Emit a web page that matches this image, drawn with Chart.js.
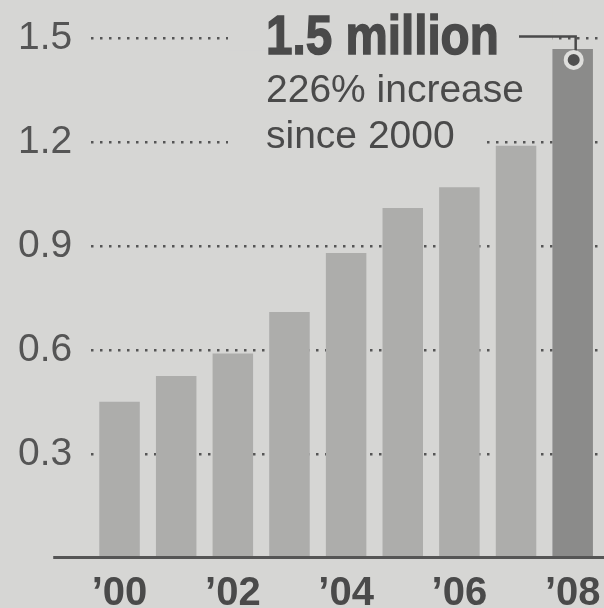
<!DOCTYPE html>
<html>
<head>
<meta charset="utf-8">
<script src="https://cdn.jsdelivr.net/npm/chart.js@4"></script>
<style>
  html, body { margin: 0; padding: 0; background: #d6d6d4; }
  #wrap { width: 604px; height: 608px; position: relative; }
</style>
</head>
<body>
<div id="wrap"><canvas id="grafica"></canvas></div>
<script>
// datos (millones)
const years = ["2000", "2001", "2002", "2003", "2004", "2005", "2006", "2007", "2008"];
const values = [0.45, 0.525, 0.59, 0.71, 0.88, 1.01, 1.07, 1.19, 1.47];
const xTickLabels = ["’00", "’02", "’04", "’06", "’08"];
const yTicks = [0.3, 0.6, 0.9, 1.2, 1.5];
const titleText = "1.5 million";
const noteLines = ["226% increase", "since 2000"];

const bg = "#d6d6d4";
const ink = "#4a4a4a";
const barLight = "#adadab";
const barDark = "#8b8b8a";

// texto anotado + línea guía + línea base
const extras = {
  id: "extras",
  beforeDatasetsDraw(chart) {
    const c = chart.ctx;
    const y = chart.scales.y;
    const last = chart.getDatasetMeta(0).data[values.length - 1];
    const left = last.x - last.width / 2;
    const y15 = y.getPixelForValue(1.5);
    const y12 = y.getPixelForValue(1.2);
    c.save();
    // tapar la cuadrícula detrás del texto
    c.fillStyle = bg;
    c.fillRect(228, 0, left - 228, y15 + 12);
    c.fillRect(228, y15 + 12, 487 - 228, y12 - y15 + 10);

    c.fillStyle = ink;
    c.strokeStyle = ink;
    c.textBaseline = "alphabetic";
    c.textAlign = "left";
    c.save();
    c.translate(266, 54);
    c.scale(0.85, 1);
    c.font = "bold 56px 'Liberation Sans', Arial";
    c.lineWidth = 1.5;
    c.fillText(titleText, 0, 0);
    c.strokeText(titleText, 0, 0);
    c.restore();
    c.font = "39px 'Liberation Sans', Arial";
    c.fillText(noteLines[0], 266, 102);
    c.fillText(noteLines[1], 266, 148);
    c.restore();
  },
  afterDatasetsDraw(chart) {
    const c = chart.ctx;
    const y = chart.scales.y;
    const a = chart.chartArea;
    const last = chart.getDatasetMeta(0).data[values.length - 1];
    const gy = y.getPixelForValue(1.5) - 2;
    const cy = last.y + 11;
    c.save();
    // línea guía
    c.strokeStyle = ink;
    c.lineWidth = 2.5;
    c.beginPath();
    c.moveTo(519, gy);
    c.lineTo(last.x + 3, gy);
    c.lineTo(last.x + 3, cy - 8);
    c.stroke();
    c.fillStyle = "#dededc";
    c.beginPath();
    c.arc(last.x + 1, cy, 10, 0, Math.PI * 2);
    c.fill();
    c.fillStyle = "#505050";
    c.beginPath();
    c.arc(last.x + 1, cy, 6, 0, Math.PI * 2);
    c.fill();
    // línea base
    c.strokeStyle = "#555";
    c.lineWidth = 3;
    c.beginPath();
    c.moveTo(a.left - 38, y.getPixelForValue(0));
    c.lineTo(604, y.getPixelForValue(0));
    c.stroke();
    c.restore();
  }
};

const ctx = document.getElementById("grafica").getContext("2d");
const chart = new Chart(ctx, {
  type: "bar",
  data: {
    labels: years,
    datasets: [{
      data: values,
      backgroundColor: (c) => c.dataIndex === values.length - 1 ? barDark : barLight,
      borderWidth: 0,
      categoryPercentage: 1,
      barPercentage: 0.715
    }]
  },
  options: {
    responsive: true,
    maintainAspectRatio: false,
    animation: false,
    layout: { padding: { top: 38, left: -1, right: 3, bottom: -22.4 } },
    plugins: { legend: { display: false }, tooltip: { enabled: false } },
    scales: {
      x: {
        grid: { display: false, drawTicks: false },
        border: { display: false },
        ticks: {
          autoSkip: false,
          maxRotation: 0,
          padding: 0,
          color: ink,
          font: { family: "'Liberation Sans', Arial", size: 40, weight: "bold", lineHeight: 1.82 },
          callback: (v, i) => i % 2 === 0 ? xTickLabels[i / 2] : ""
        }
      },
      y: {
        min: 0,
        max: 1.5,
        afterBuildTicks: (s) => { s.ticks = yTicks.map(v => ({ value: v })); },
        grid: { color: "#555", lineWidth: 2.5, drawTicks: false },
        border: { display: false, dash: [2.5, 6.5] },
        ticks: {
          padding: 19,
          color: "#555",
          font: { family: "'Liberation Sans', Arial", size: 39, lineHeight: 1 },
          callback: (v) => v.toFixed(1)
        }
      }
    }
  },
  plugins: [extras]
});
</script>
</body>
</html>
